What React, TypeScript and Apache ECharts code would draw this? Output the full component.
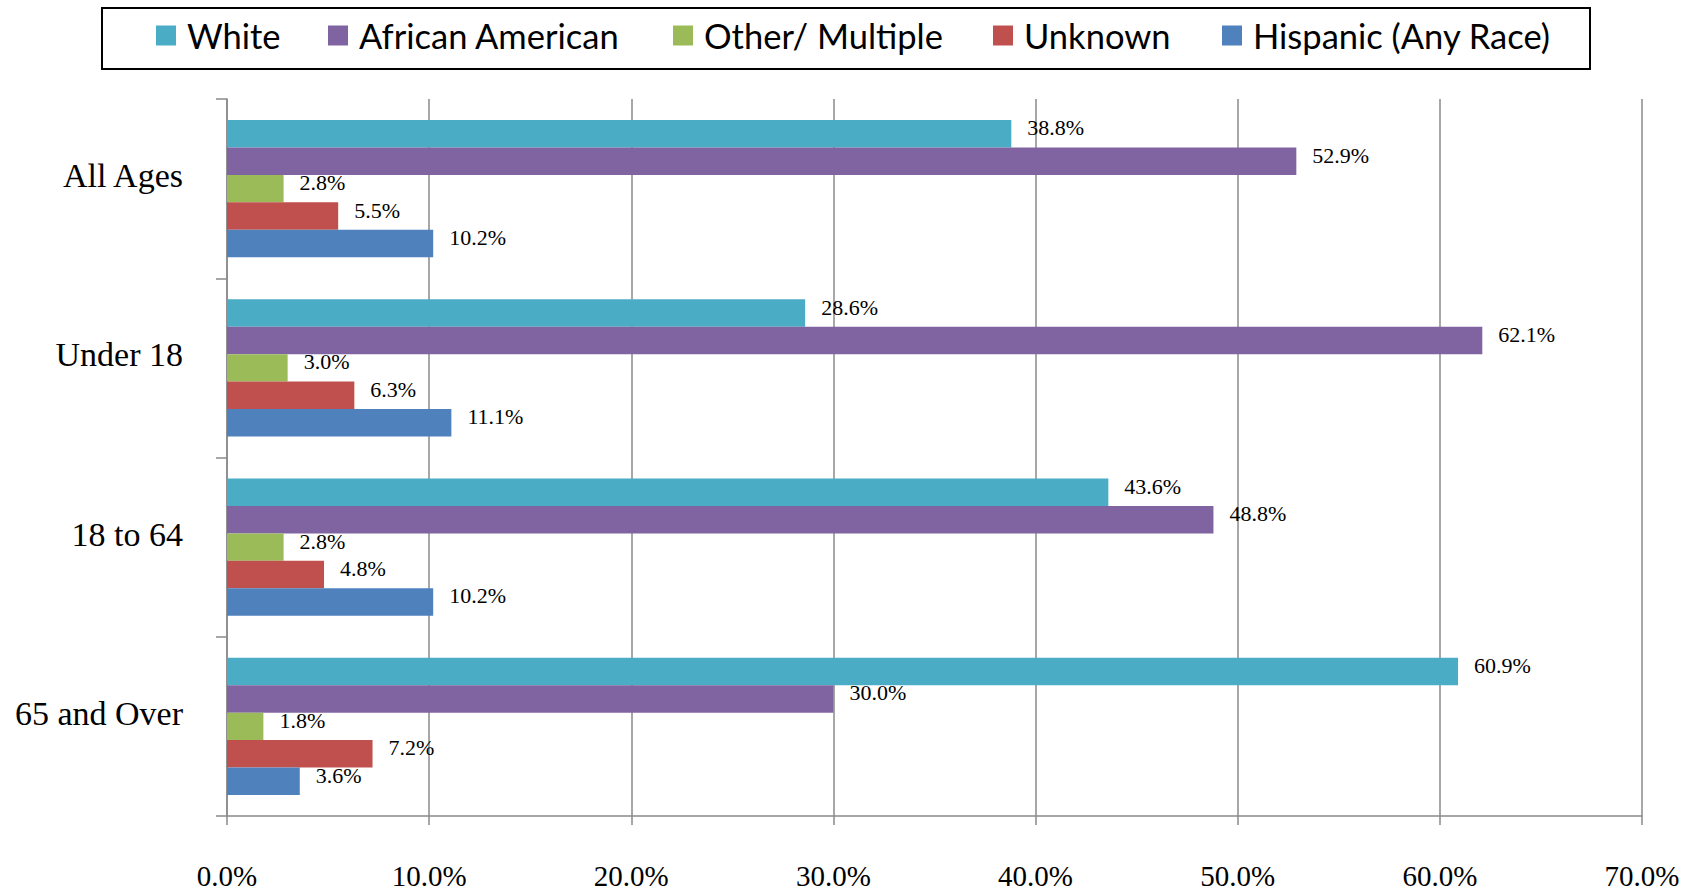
import React, { useEffect, useRef } from "react";
import * as echarts from "echarts";

const categories = ["All Ages", "Under 18", "18 to 64", "65 and Over"];
const seriesNames = ["White", "African American", "Other/ Multiple", "Unknown", "Hispanic (Any Race)"];
const seriesColors = ["#4BACC6", "#8064A2", "#9BBB59", "#C0504D", "#4F81BD"];
const white = [38.8, 28.6, 43.6, 60.9];
const africanAmerican = [52.9, 62.1, 48.8, 30.0];
const otherMultiple = [2.8, 3.0, 2.8, 1.8];
const unknown = [5.5, 6.3, 4.8, 7.2];
const hispanic = [10.2, 11.1, 10.2, 3.6];
const seriesValues = [white, africanAmerican, otherMultiple, unknown, hispanic];
const xTicks = { min: 0, max: 70, interval: 10 };

const legendLefts = [156, 328, 673, 993, 1222];

export default function App() {
  const ref = useRef<HTMLDivElement>(null);
  useEffect(() => {
    if (!ref.current) return;
    const chart = echarts.init(ref.current, null, { renderer: "svg" });
    const serif = "'Liberation Serif', 'DejaVu Serif', serif";
    const gray = "#8a8a8a";
    chart.setOption({
      animation: false,
      backgroundColor: "#ffffff",
      graphic: [
        {
          type: "rect",
          shape: { x: 102, y: 8, width: 1488, height: 61 },
          style: { fill: "none", stroke: "#000", lineWidth: 2 },
          silent: true,
        },
      ],
      legend: seriesNames.map((n, i) => ({
        data: [n],
        left: legendLefts[i],
        top: 18,
        padding: 0,
        itemGap: 0,
        itemWidth: 20,
        itemHeight: 20,
        icon: "rect",
        selectedMode: false,
        textStyle: {
          fontFamily: "Lato, 'Open Sans', sans-serif",
          fontSize: 34.5,
          color: "#000",
          padding: [0, 0, 0, 6],
        },
      })),
      grid: { left: 227, right: 54, top: 99, bottom: 73.3, containLabel: false },
      xAxis: {
        type: "value",
        min: xTicks.min,
        max: xTicks.max,
        interval: xTicks.interval,
        axisLine: { show: true, lineStyle: { color: gray, width: 1.5 } },
        axisTick: { show: true, length: 9, lineStyle: { color: gray, width: 1.5 } },
        splitLine: { show: true, lineStyle: { color: gray, width: 1.5 } },
        axisLabel: {
          margin: 45,
          fontFamily: serif,
          fontSize: 29,
          color: "#000",
          formatter: (v: number) => v.toFixed(1) + "%",
        },
      },
      yAxis: {
        type: "category",
        data: categories,
        inverse: true,
        axisLine: { show: true, lineStyle: { color: gray, width: 1.5 } },
        axisTick: { show: true, length: 11, lineStyle: { color: gray, width: 1.5 } },
        splitLine: { show: false },
        axisLabel: {
          margin: 44,
          fontFamily: serif,
          fontSize: 34,
          color: "#000",
          verticalAlign: "bottom",
          lineHeight: 26,
        },
      },
      series: seriesNames.map((n, i) => ({
        name: n,
        type: "bar",
        data: seriesValues[i],
        barGap: "0%",
        barCategoryGap: "23.5%",
        itemStyle: { color: seriesColors[i] },
        label: {
          show: true,
          position: "right",
          distance: 16,
          offset: [0, -6],
          fontFamily: serif,
          fontSize: 22,
          color: "#000",
          formatter: (p: any) => Number(p.value).toFixed(1) + "%",
        },
      })),
    });
    return () => chart.dispose();
  }, []);
  return (
    <div
      ref={ref}
      style={{ position: "fixed", left: 0, top: 0, width: 1696, height: 890, background: "#fff" }}
    />
  );
}
